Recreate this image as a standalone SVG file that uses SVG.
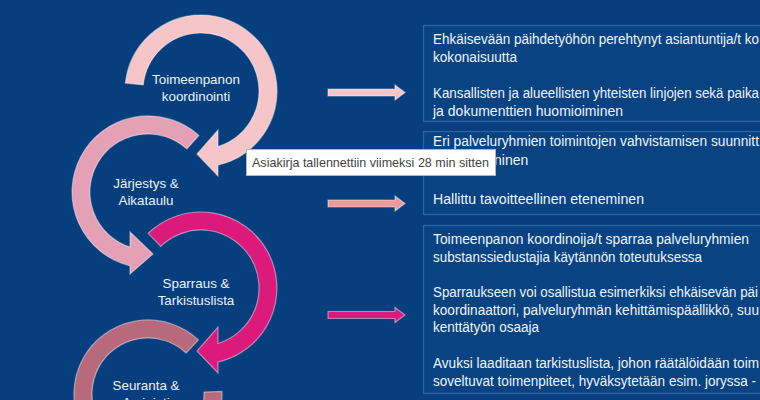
<svg xmlns="http://www.w3.org/2000/svg" width="760" height="400" viewBox="0 0 760 400">
<defs>
<style>
.bg{fill:#063e7e}
.box{fill:#0a4382;stroke:#2a64a8;stroke-width:1.3}
.arc{stroke:#ffffff;stroke-opacity:0.45;stroke-width:1.2;stroke-linejoin:miter}
.lbl{font-family:"Liberation Sans",Arial,sans-serif;font-size:13.4px;fill:#eef2f8;text-anchor:middle}
.txt{font-family:"Liberation Sans",Arial,sans-serif;font-size:14px;fill:#f0f4fa}
.tip{font-family:"Liberation Sans",Arial,sans-serif;font-size:13px;fill:#444444}
.c1{fill:#f5c5c8}
.c2{fill:#e4a0b4}
.c3{fill:#db1a7b}
.c4{fill:#b86a7c}
.c5{fill:#ea9b9a}
</style>
</defs>
<rect class="bg" x="0" y="0" width="760" height="400"/>

<g id="step1">
<path class="arc c1" d="M125.4,83.1 A76,76 0 1 1 218,165.1 L218,176 L197,154 L218,130 L218,146.4 A58,58 0 1 0 143.3,84.9 Z"/>
<text class="lbl" x="196" y="84">Toimeenpanon</text>
<text class="lbl" x="196" y="101">koordinointi</text>
</g>

<g id="step2">
<path class="arc c2" d="M198.9,135.5 A76,76 0 1 0 130,265.8 L130,274 L153,254 L130,232 L130,247.1 A58,58 0 1 1 186.8,148.9 Z"/>
<text class="lbl" x="146" y="188">Järjestys &amp;</text>
<text class="lbl" x="146" y="205">Aikataulu</text>
</g>

<g id="step3">
<path class="arc c3" d="M148.2,233.3 A76,76 0 1 1 218,362.1 L218,373 L197,351 L218,327 L218,343.45 A58,58 0 1 0 160.7,246.3 Z"/>
<text class="lbl" x="196" y="288">Sparraus &amp;</text>
<text class="lbl" x="196" y="305">Tarkistuslista</text>
</g>

<g id="step4">
<path class="arc c4" d="M198.5,339.9 A74,74 0 1 0 221.95,391.4 L203.97,392.05 A56,56 0 1 1 186.2,353 Z"/>
<text class="lbl" x="146" y="390">Seuranta &amp;</text>
<text class="lbl" x="146" y="407">Arviointi</text>
</g>

<g id="connectors">
<path class="arc c1" d="M328,89 H395 V85 L405,92.5 L395,100 V96 H328 Z"/>
<path class="arc c5" d="M328,200 H395 V196 L405,203.5 L395,211 V207 H328 Z"/>
<path class="arc c3" d="M328,311.5 H395 V307.5 L405,315 L395,322.5 V318.5 H328 Z"/>
</g>

<g id="box1">
<rect class="box" x="423.5" y="25.5" width="345" height="96"/>
<text class="txt" x="433" y="44" textLength="326" lengthAdjust="spacingAndGlyphs">Ehkäisevään päihdetyöhön perehtynyt asiantuntija/t ko</text>
<text class="txt" x="433" y="62" textLength="84" lengthAdjust="spacingAndGlyphs">kokonaisuutta</text>
<text class="txt" x="433" y="98" textLength="326" lengthAdjust="spacingAndGlyphs">Kansallisten ja alueellisten yhteisten linjojen sekä paika</text>
<text class="txt" x="433" y="116" textLength="190" lengthAdjust="spacingAndGlyphs">ja dokumenttien huomioiminen</text>
</g>

<g id="box2">
<rect class="box" x="423.5" y="131.5" width="345" height="83"/>
<text class="txt" x="433" y="146" textLength="326" lengthAdjust="spacingAndGlyphs">Eri palveluryhmien toimintojen vahvistamisen suunnitt</text>
<text class="txt" x="494" y="165">ninen</text>
<text class="txt" x="433" y="204" textLength="211" lengthAdjust="spacingAndGlyphs">Hallittu tavoitteellinen eteneminen</text>
</g>

<g id="box3">
<rect class="box" x="423.5" y="225.5" width="345" height="168"/>
<text class="txt" x="433" y="244" textLength="316" lengthAdjust="spacingAndGlyphs">Toimeenpanon koordinoija/t sparraa palveluryhmien</text>
<text class="txt" x="433" y="262" textLength="269" lengthAdjust="spacingAndGlyphs">substanssiedustajia käytännön toteutuksessa</text>
<text class="txt" x="433" y="297" textLength="325" lengthAdjust="spacingAndGlyphs">Sparraukseen voi osallistua esimerkiksi ehkäisevän päi</text>
<text class="txt" x="433" y="315" textLength="326" lengthAdjust="spacingAndGlyphs">koordinaattori, palveluryhmän kehittämispäällikkö, suu</text>
<text class="txt" x="433" y="332" textLength="106" lengthAdjust="spacingAndGlyphs">kenttätyön osaaja</text>
<text class="txt" x="433" y="368" textLength="326" lengthAdjust="spacingAndGlyphs">Avuksi laaditaan tarkistuslista, johon räätälöidään toim</text>
<text class="txt" x="433" y="386" textLength="323" lengthAdjust="spacingAndGlyphs">soveltuvat toimenpiteet, hyväksytetään esim. joryssa -</text>
</g>

<g id="tooltip">
<rect x="246.5" y="149.5" width="249" height="26" fill="#ffffff" stroke="#b5b5b5" stroke-width="1"/>
<text class="tip" x="252" y="167" textLength="237" lengthAdjust="spacingAndGlyphs">Asiakirja tallennettiin viimeksi 28 min sitten</text>
</g>
</svg>
